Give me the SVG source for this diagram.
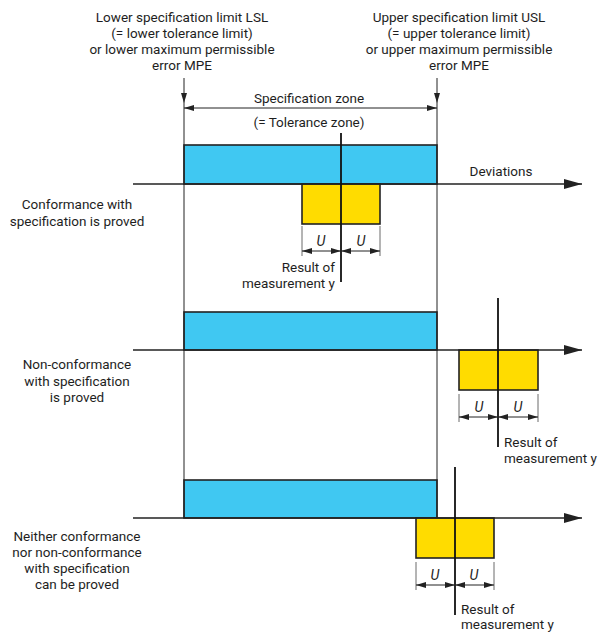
<svg xmlns="http://www.w3.org/2000/svg" width="603" height="632" viewBox="0 0 603 632">
<defs>
<style>
text{font-family:Roboto,"Liberation Sans",sans-serif;font-size:13.5px;fill:#1e1e1e;}
.c{text-anchor:middle;}
.r{text-anchor:end;}
.u{font-style:italic;text-anchor:middle;font-size:14px;}
.lim{stroke:#222;stroke-width:1;fill:none;}
.axis{stroke:#222;stroke-width:1.6;fill:none;}
.spec{fill:#40C8F2;stroke:#222;stroke-width:1.6;}
.unc{fill:#FFDC00;stroke:#222;stroke-width:1.6;}
.meas{stroke:#111;stroke-width:1.8;fill:none;}
.ext{stroke:#444;stroke-width:0.8;fill:none;}
.dim{stroke:#222;stroke-width:1;fill:none;}
</style>
<marker id="ah" viewBox="0 0 10 6" refX="10" refY="3" markerWidth="10" markerHeight="6" markerUnits="userSpaceOnUse" orient="auto-start-reverse"><path d="M0,0 L10,3 L0,6 Z" fill="#222"/></marker>
<marker id="big" viewBox="0 0 18 10" refX="18" refY="5" markerWidth="18" markerHeight="10" markerUnits="userSpaceOnUse" orient="auto"><path d="M0,0 L18,5 L0,10 Z" fill="#222"/></marker>
</defs>
<rect width="603" height="632" fill="#fff"/>

<g id="limits">
<text class="c" x="182" y="22">Lower specification limit LSL</text>
<text class="c" x="182" y="38">(= lower tolerance limit)</text>
<text class="c" x="182" y="54">or lower maximum permissible</text>
<text class="c" x="182" y="70">error MPE</text>
<text class="c" x="459" y="22">Upper specification limit USL</text>
<text class="c" x="459" y="38">(= upper tolerance limit)</text>
<text class="c" x="459" y="54">or upper maximum permissible</text>
<text class="c" x="459" y="70">error MPE</text>
<text class="c" x="309" y="103">Specification zone</text>
<text class="c" x="309" y="127">(= Tolerance zone)</text>
<text class="c" x="501" y="176">Deviations</text>
</g>

<g id="row1">
<rect class="spec" x="184" y="145" width="253" height="39"/>
<rect class="unc" x="302" y="184" width="78" height="40"/>
<text class="c" x="77" y="209">Conformance with</text>
<text class="c" x="77" y="226">specification is proved</text>
<text class="r" x="335" y="272">Result of</text>
<text class="r" x="335" y="288">measurement y</text>
<text class="u" x="321" y="246">U</text>
<text class="u" x="361" y="246">U</text>
</g>

<g id="row2">
<rect class="spec" x="184" y="312" width="253" height="38"/>
<rect class="unc" x="459" y="350" width="79" height="40"/>
<text class="c" x="77" y="369">Non-conformance</text>
<text class="c" x="77" y="386">with specification</text>
<text class="c" x="77" y="402">is proved</text>
<text x="504" y="447">Result of</text>
<text x="504" y="463">measurement y</text>
<text class="u" x="479" y="412">U</text>
<text class="u" x="518" y="412">U</text>
</g>

<g id="row3">
<rect class="spec" x="184" y="480" width="253" height="38"/>
<rect class="unc" x="416" y="518" width="78" height="40"/>
<text class="c" x="77" y="541">Neither conformance</text>
<text class="c" x="77" y="557">nor non-conformance</text>
<text class="c" x="77" y="573">with specification</text>
<text class="c" x="77" y="589">can be proved</text>
<text x="461" y="614">Result of</text>
<text x="461" y="629">measurement y</text>
<text class="u" x="435" y="580">U</text>
<text class="u" x="474" y="580">U</text>
</g>

<g id="connectors">
<line class="lim" x1="184" y1="78" x2="184" y2="103" marker-end="url(#ah)"/>
<line class="lim" x1="184" y1="103" x2="184" y2="518"/>
<line class="lim" x1="437" y1="78" x2="437" y2="103" marker-end="url(#ah)"/>
<line class="lim" x1="437" y1="103" x2="437" y2="518"/>
<line class="dim" x1="184" y1="108" x2="437" y2="108" marker-start="url(#ah)" marker-end="url(#ah)"/>

<line class="axis" x1="133" y1="184" x2="582" y2="184" marker-end="url(#big)"/>
<line class="axis" x1="133" y1="350" x2="582" y2="350" marker-end="url(#big)"/>
<line class="axis" x1="133" y1="518" x2="582" y2="518" marker-end="url(#big)"/>

<line class="meas" x1="341" y1="133" x2="341" y2="282"/>
<line class="ext" x1="302" y1="226" x2="302" y2="256"/>
<line class="ext" x1="380" y1="226" x2="380" y2="256"/>
<line class="dim" x1="302" y1="251" x2="341" y2="251" marker-start="url(#ah)" marker-end="url(#ah)"/>
<line class="dim" x1="341" y1="251" x2="380" y2="251" marker-start="url(#ah)" marker-end="url(#ah)"/>

<line class="meas" x1="498" y1="298" x2="498" y2="447"/>
<line class="ext" x1="459" y1="394" x2="459" y2="422"/>
<line class="ext" x1="538" y1="394" x2="538" y2="422"/>
<line class="dim" x1="459" y1="417" x2="498" y2="417" marker-start="url(#ah)" marker-end="url(#ah)"/>
<line class="dim" x1="498" y1="417" x2="538" y2="417" marker-start="url(#ah)" marker-end="url(#ah)"/>

<line class="meas" x1="455" y1="467" x2="455" y2="615"/>
<line class="ext" x1="416" y1="562" x2="416" y2="590"/>
<line class="ext" x1="494" y1="562" x2="494" y2="590"/>
<line class="dim" x1="416" y1="585" x2="455" y2="585" marker-start="url(#ah)" marker-end="url(#ah)"/>
<line class="dim" x1="455" y1="585" x2="494" y2="585" marker-start="url(#ah)" marker-end="url(#ah)"/>
</g>
</svg>
